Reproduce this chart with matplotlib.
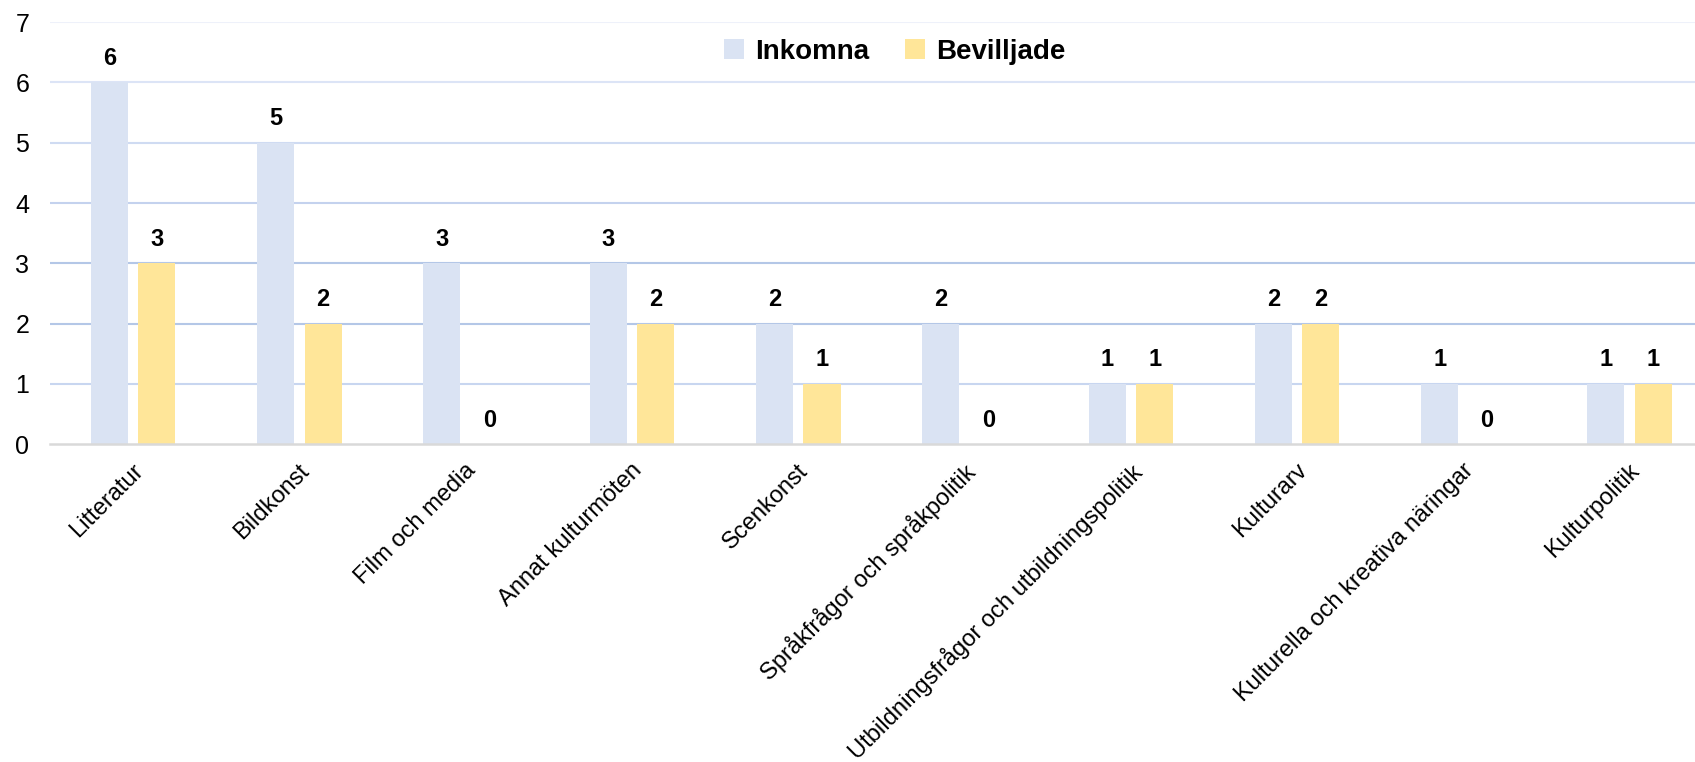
import matplotlib.pyplot as plt
import matplotlib.transforms as mtransforms
import numpy as np

plt.rcParams["font.family"] = ["Liberation Sans", "DejaVu Sans"]

categories = [
    "Litteratur",
    "Bildkonst",
    "Film och media",
    "Annat kulturmöten",
    "Scenkonst",
    "Språkfrågor och språkpolitik",
    "Utbildningsfrågor och utbildningspolitik",
    "Kulturarv",
    "Kulturella och kreativa näringar",
    "Kulturpolitik",
]
inkomna = [6, 5, 3, 3, 2, 2, 1, 2, 1, 1]
bevilljade = [3, 2, 0, 2, 1, 0, 1, 2, 0, 1]

fig = plt.figure(figsize=(16.95, 7.62), dpi=100)
# the original chart is cut off on the right, so the axes run past the figure edge
ax = fig.add_axes([0.0295, 0.417, 0.981, 0.554])

x = np.arange(len(categories))
w = 0.223
off = 0.143
b1 = ax.bar(x - off, inkomna, w, color="#dae3f3", label="Inkomna", zorder=3)
b2 = ax.bar(x + off, bevilljade, w, color="#ffe699", label="Bevilljade", zorder=3)

for bars in (b1, b2):
    for rect in bars:
        h = rect.get_height()
        ax.annotate(f"{h:.0f}", (rect.get_x() + rect.get_width() / 2, h),
                    xytext=(0, 9), textcoords="offset points",
                    ha="center", va="bottom", fontsize=17, fontweight="bold")

# gridlines with slightly varying tint like the original
grid_colors = {1: "#c8d6f0", 2: "#b4c7e7", 3: "#b4c7e7", 4: "#c4d2ee",
               5: "#cfdbf2", 6: "#dce4f6", 7: "#eef1fa"}
for yv, col in grid_colors.items():
    ax.axhline(yv, color=col, lw=1.5, zorder=1)

ax.set_xlim(-0.5, len(categories) - 0.5)
ax.set_ylim(0, 7)
ax.set_yticks(range(0, 8))
ax.tick_params(axis="y", length=0, labelsize=18, pad=15)
ax.tick_params(axis="x", length=0, labelsize=17, pad=11)
ax.set_xticks(x)
ax.set_xticklabels(categories, rotation=45, ha="right", rotation_mode="anchor")
shift = mtransforms.ScaledTranslation(-1 / 72, 0, fig.dpi_scale_trans)
for lab in ax.get_xticklabels():
    lab.set_transform(lab.get_transform() + shift)

for s in ("top", "right", "left"):
    ax.spines[s].set_visible(False)
ax.spines["bottom"].set_color("#d9d9d9")
ax.spines["bottom"].set_linewidth(1.8)
ax.spines["bottom"].set_zorder(4)

ax.legend(loc="center", bbox_to_anchor=(0.508, 0.93), ncol=2, frameon=False,
          prop={"size": 20, "weight": "bold"}, handlelength=0.7, handleheight=0.7,
          handletextpad=0.4, columnspacing=1.3)

fig.savefig("out.png", dpi=100)
